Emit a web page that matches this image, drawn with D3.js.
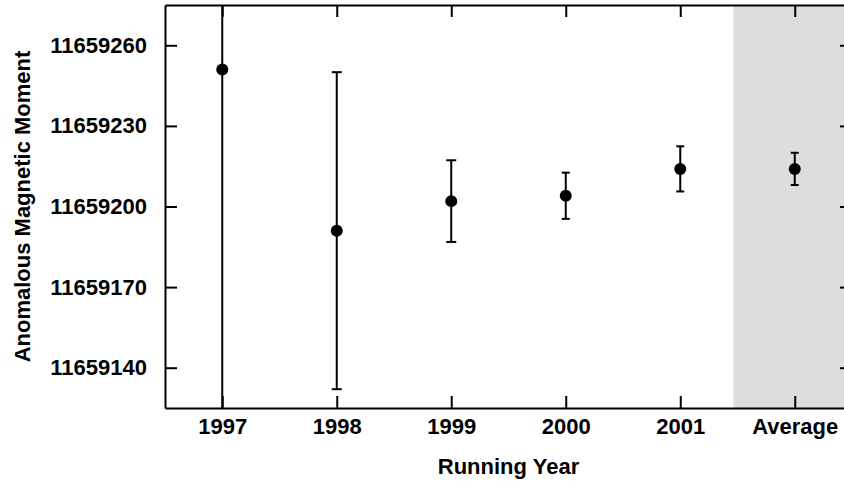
<!DOCTYPE html>
<html>
<head>
<meta charset="utf-8">
<script src="https://cdn.jsdelivr.net/npm/d3@7"></script>
<style>
  html, body { margin: 0; padding: 0; background: #fff; }
  svg { display: block; }
  text { font-family: "Liberation Sans", Arial, Helvetica, sans-serif; font-weight: bold; fill: #000; }
</style>
</head>
<body>
<svg id="chart" width="844" height="483"></svg>
<script>
const categories = ["1997", "1998", "1999", "2000", "2001", "Average"];
const values = [11659251, 11659191, 11659202, 11659204, 11659214, 11659214];
const errors = [150, 59, 15.2, 8.6, 8.4, 6];
const yTicks = [11659140, 11659170, 11659200, 11659230, 11659260];
const yDomain = [11659125, 11659275];
const shadedFrom = 4.465; // category index where the shaded "Average" region starts

const svg = d3.select("#chart");
const m = { left: 165, right: 852, top: 5, bottom: 408 };
const FS = "22px";

const x = d3.scaleLinear().domain([-0.5, categories.length - 0.5]).range([m.left, m.right]);
const y = d3.scaleLinear().domain(yDomain).range([m.bottom, m.top]);

svg.append("defs").append("clipPath").attr("id", "plotclip")
  .append("rect").attr("x", m.left).attr("y", m.top)
  .attr("width", m.right - m.left).attr("height", m.bottom - m.top);

// shaded region
svg.append("rect")
  .attr("x", x(shadedFrom)).attr("y", m.top)
  .attr("width", x(categories.length - 0.5) - x(shadedFrom))
  .attr("height", m.bottom - m.top)
  .attr("fill", "#dcdddd");

const idx = categories.map((_, i) => i);

function styleAxis(g) {
  g.selectAll(".domain").attr("stroke", "#000").attr("stroke-width", 2);
  g.selectAll(".tick line").attr("stroke", "#000").attr("stroke-width", 2);
  g.selectAll("text").style("font-size", FS).attr("fill", "#000");
}

// bottom axis
svg.append("g").attr("transform", `translate(0,${m.bottom})`)
  .call(d3.axisBottom(x).tickValues(idx).tickFormat(i => categories[i]).tickSizeInner(-12).tickSizeOuter(0).tickPadding(10))
  .call(styleAxis)
  .call(g => g.selectAll("text").attr("dy", "0.71em").attr("y", 10));

// top axis
svg.append("g").attr("transform", `translate(0,${m.top})`)
  .call(d3.axisTop(x).tickValues(idx).tickFormat("").tickSizeInner(-12).tickSizeOuter(0))
  .call(styleAxis);

// left axis
svg.append("g").attr("transform", `translate(${m.left},0)`)
  .call(d3.axisLeft(y).tickValues(yTicks).tickFormat(d3.format("d")).tickSizeInner(-12).tickSizeOuter(0).tickPadding(18))
  .call(styleAxis)
  .call(g => g.selectAll("text").attr("x", -18));

// right axis (frame just off-canvas, ticks visible)
svg.append("g").attr("transform", `translate(${m.right},0)`)
  .call(d3.axisRight(y).tickValues(yTicks).tickFormat("").tickSizeInner(-12).tickSizeOuter(0))
  .call(styleAxis);

// error bars and points
const plot = svg.append("g").attr("clip-path", "url(#plotclip)");
const capW = [8, 10, 10, 8, 8, 8];
idx.forEach(i => {
  const cx = x(i);
  const lo = y(values[i] - errors[i]), hi = y(values[i] + errors[i]);
  plot.append("line").attr("x1", cx).attr("x2", cx).attr("y1", lo).attr("y2", hi)
    .attr("stroke", "#000").attr("stroke-width", 2);
  [lo, hi].forEach(yy => {
    plot.append("line").attr("x1", cx - capW[i] / 2).attr("x2", cx + capW[i] / 2)
      .attr("y1", yy).attr("y2", yy).attr("stroke", "#000").attr("stroke-width", 2);
  });
  plot.append("circle").attr("cx", cx).attr("cy", y(values[i])).attr("r", 6).attr("fill", "#000");
});

// axis titles
svg.append("text")
  .attr("x", (m.left + m.right) / 2).attr("y", 474)
  .attr("text-anchor", "middle").style("font-size", FS)
  .text("Running Year");

svg.append("text")
  .attr("transform", `translate(30,${(m.top + m.bottom) / 2}) rotate(-90)`)
  .attr("text-anchor", "middle").style("font-size", FS)
  .text("Anomalous Magnetic Moment");
</script>
</body>
</html>
